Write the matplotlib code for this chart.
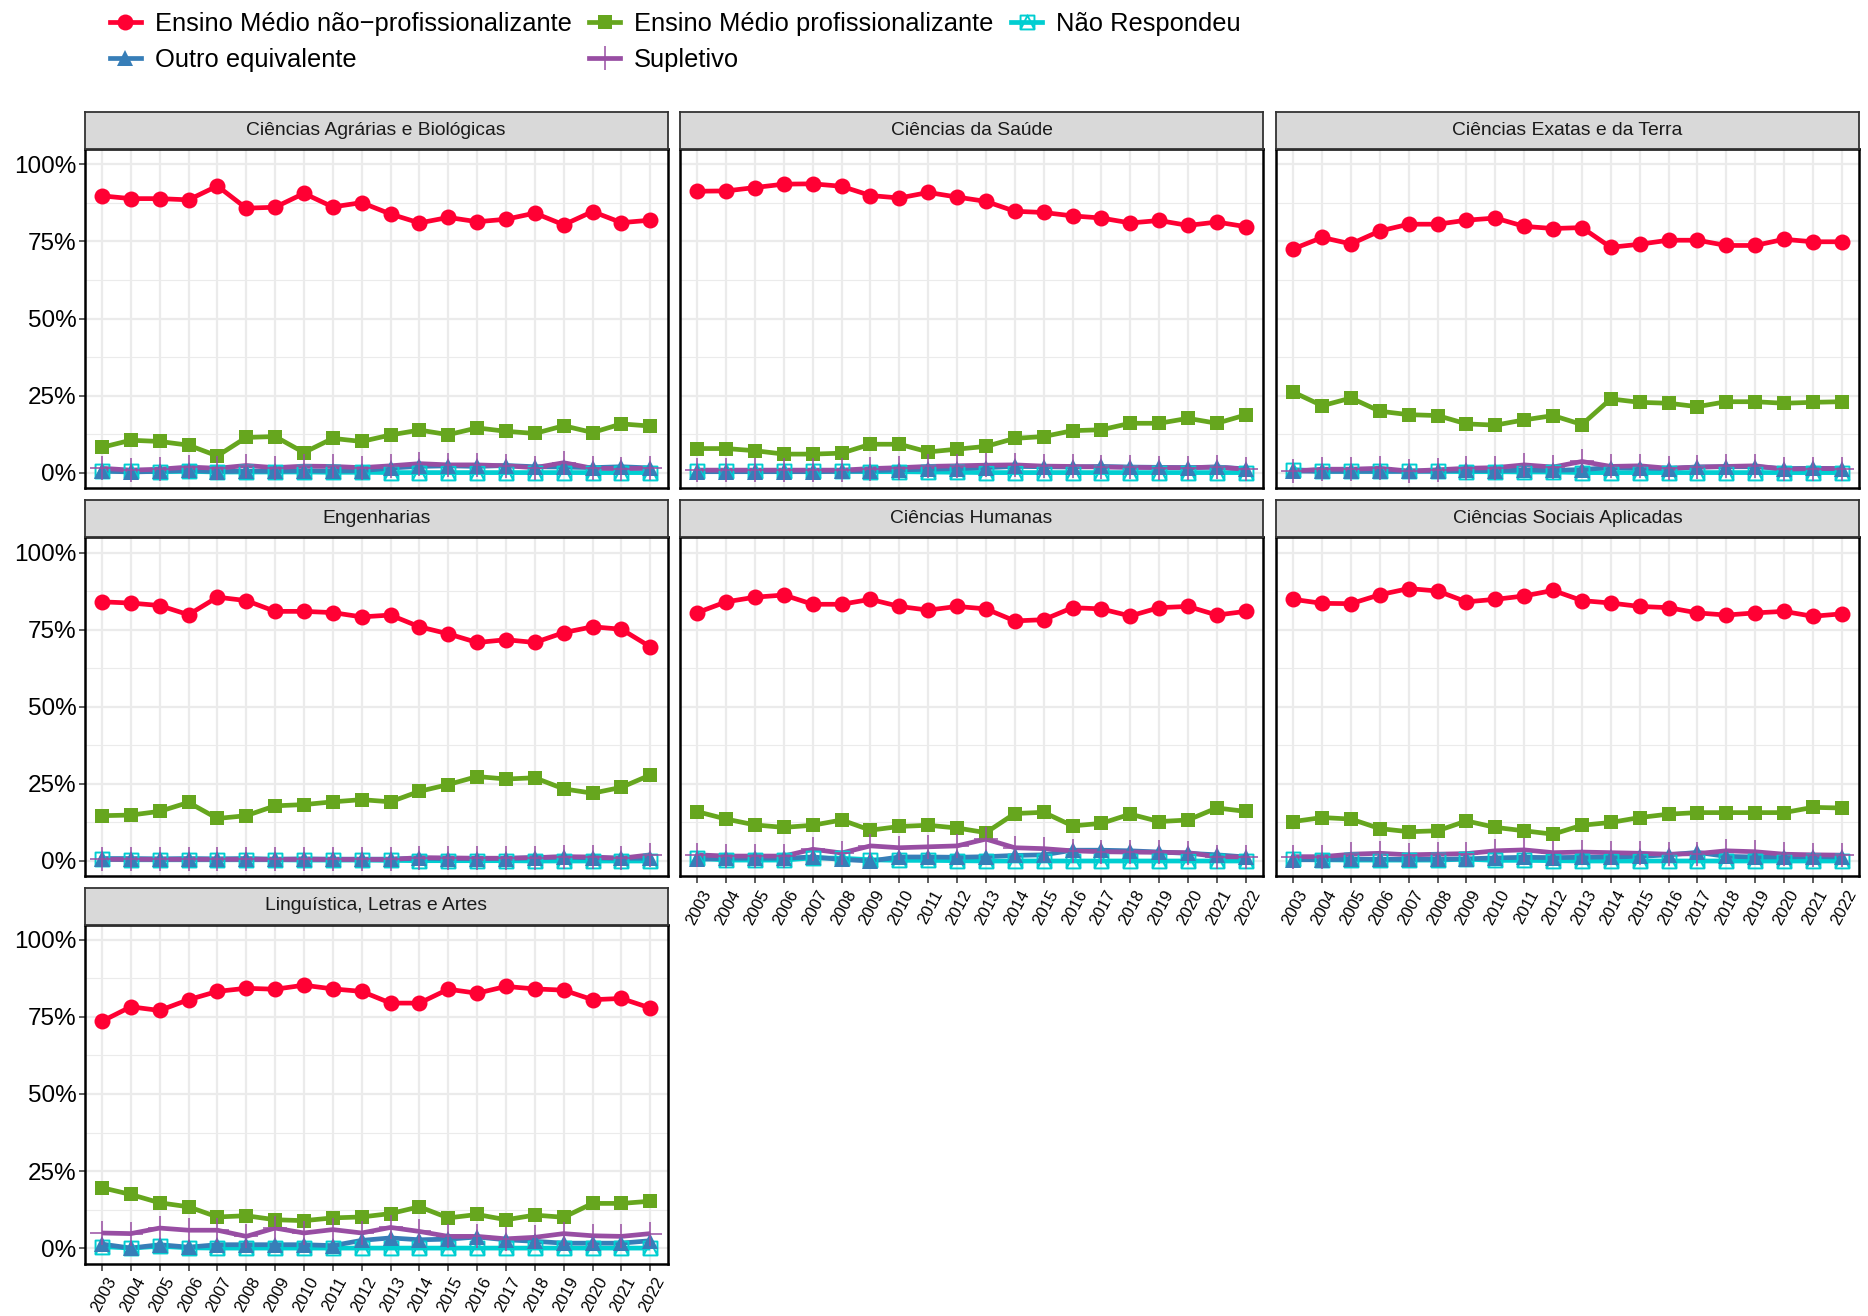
import matplotlib.pyplot as plt
import numpy as np
from matplotlib.lines import Line2D
from matplotlib.path import Path
from matplotlib.transforms import ScaledTranslation

plt.rcParams['font.family'] = ['Liberation Sans', 'DejaVu Sans']

years = list(range(2003, 2023))

areas = ['Ciências Agrárias e Biológicas', 'Ciências da Saúde', 'Ciências Exatas e da Terra',
         'Engenharias', 'Ciências Humanas', 'Ciências Sociais Aplicadas',
         'Linguística, Letras e Artes']

series_labels = ['Ensino Médio não−profissionalizante', 'Ensino Médio profissionalizante',
                 'Não Respondeu', 'Outro equivalente', 'Supletivo']

# share of students (%) by area, 2003-2022
nao_prof = {
    'Ciências Agrárias e Biológicas': [89.8, 88.9, 88.9, 88.5, 93.0, 85.8, 86.1, 90.6, 86.2, 87.6,
                                       83.9, 81.0, 82.8, 81.4, 82.2, 84.2, 80.4, 84.7, 81.1, 81.9],
    'Ciências da Saúde': [91.3, 91.4, 92.5, 93.6, 93.7, 92.9, 89.9, 89.1, 90.9, 89.4,
                          88.0, 84.8, 84.4, 83.3, 82.6, 81.0, 81.8, 80.2, 81.3, 79.8],
    'Ciências Exatas e da Terra': [72.6, 76.3, 74.2, 78.4, 80.6, 80.6, 81.9, 82.6, 79.9, 79.2,
                                   79.5, 73.1, 74.1, 75.4, 75.4, 73.7, 73.7, 75.7, 74.9, 74.9],
    'Engenharias': [84.1, 83.7, 82.9, 79.9, 85.6, 84.5, 81.0, 81.0, 80.6, 79.2,
                    79.8, 76.0, 73.7, 70.9, 71.8, 70.9, 74.1, 76.0, 75.2, 69.5],
    'Ciências Humanas': [80.6, 84.1, 85.6, 86.3, 83.3, 83.3, 84.9, 82.6, 81.4, 82.6,
                         81.8, 77.9, 78.3, 82.2, 81.8, 79.5, 82.2, 82.6, 79.8, 81.0],
    'Ciências Sociais Aplicadas': [84.9, 83.6, 83.5, 86.4, 88.4, 87.6, 84.1, 84.9, 86.0, 87.8,
                                   84.5, 83.7, 82.6, 82.2, 80.5, 79.8, 80.5, 81.0, 79.4, 80.2],
    'Linguística, Letras e Artes': [73.6, 78.3, 77.1, 80.6, 83.3, 84.3, 84.0, 85.3, 84.1, 83.3,
                                    79.5, 79.5, 84.0, 82.7, 84.9, 84.1, 83.7, 80.6, 81.0, 77.9],
}

prof = {
    'Ciências Agrárias e Biológicas': [8.2, 10.5, 10.1, 8.9, 5.4, 11.4, 11.7, 6.5, 11.1, 10.1,
                                       12.2, 13.8, 12.3, 14.5, 13.4, 12.7, 15.2, 13.0, 15.8, 15.1],
    'Ciências da Saúde': [7.8, 7.8, 7.1, 6.0, 6.0, 6.3, 9.2, 9.2, 6.7, 7.6,
                          8.5, 11.1, 11.7, 13.6, 13.9, 16.0, 16.0, 17.6, 16.0, 18.7],
    'Ciências Exatas e da Terra': [26.1, 21.7, 24.2, 19.9, 18.8, 18.5, 15.8, 15.4, 17.1, 18.5,
                                   15.6, 23.9, 22.8, 22.5, 21.4, 23.0, 23.0, 22.5, 22.8, 23.0],
    'Engenharias': [14.7, 14.9, 16.1, 19.0, 13.8, 14.7, 17.9, 18.3, 19.2, 19.9,
                    19.2, 22.6, 24.8, 27.4, 26.6, 27.0, 23.4, 22.0, 23.9, 27.9],
    'Ciências Humanas': [16.0, 13.6, 11.7, 10.9, 11.6, 13.3, 10.0, 11.2, 11.6, 10.7,
                         9.2, 15.4, 15.8, 11.4, 12.2, 15.2, 12.8, 13.3, 17.2, 16.1],
    'Ciências Sociais Aplicadas': [12.8, 14.1, 13.6, 10.5, 9.5, 9.8, 13.0, 10.9, 9.8, 8.7,
                                   11.6, 12.5, 14.1, 15.2, 15.7, 15.7, 15.7, 15.7, 17.4, 17.2],
    'Linguística, Letras e Artes': [19.6, 17.4, 14.7, 13.4, 10.1, 10.5, 9.2, 8.9, 9.8, 10.1,
                                    11.2, 13.4, 9.8, 10.9, 9.2, 10.7, 10.0, 14.5, 14.5, 15.2],
}

nao_respondeu = {
    'Ciências Agrárias e Biológicas': [0.5, 0.4, 0.3, 0.4, 0.2, 0.2, 0.2, 0.2, 0.1, 0.1,
                                       0.0, 0.0, 0.0, 0.0, 0.0, 0.0, 0.0, 0.0, 0.0, 0.0],
    'Ciências da Saúde': [0.5, 0.5, 0.4, 0.5, 0.4, 0.4, 0.3, 0.3, 0.2, 0.1,
                          0.0, 0.0, 0.0, 0.0, 0.0, 0.0, 0.0, 0.0, 0.0, 0.0],
    'Ciências Exatas e da Terra': [1.0, 0.4, 0.4, 0.4, 0.5, 0.4, 0.3, 0.3, 0.2, 0.2,
                                   0.0, 0.0, 0.0, 0.0, 0.0, 0.0, 0.0, 0.0, 0.0, 0.0],
    'Engenharias': [0.5, 0.4, 0.4, 0.4, 0.4, 0.4, 0.4, 0.3, 0.3, 0.3,
                    0.2, 0.1, 0.1, 0.1, 0.1, 0.0, 0.0, 0.0, 0.0, 0.0],
    'Ciências Humanas': [0.9, 0.3, 0.3, 0.3, 1.0, 0.9, 0.4, 0.2, 0.2, 0.1,
                         0.0, 0.0, 0.0, 0.0, 0.0, 0.0, 0.0, 0.0, 0.0, 0.0],
    'Ciências Sociais Aplicadas': [0.5, 0.4, 0.3, 0.3, 0.3, 0.3, 0.6, 0.2, 0.2, 0.1,
                                   0.0, 0.0, 0.0, 0.0, 0.0, 0.0, 0.0, 0.0, 0.0, 0.0],
    'Linguística, Letras e Artes': [0.5, 0.0, 0.6, 0.1, 0.0, 0.0, 0.0, 0.0, 0.0, 0.0,
                                    0.0, 0.0, 0.0, 0.0, 0.0, 0.0, 0.0, 0.0, 0.0, 0.0],
}

outro = {
    'Ciências Agrárias e Biológicas': [0.5, 0.2, 0.4, 0.7, 0.3, 0.5, 0.4, 0.6, 0.5, 0.6,
                                       1.5, 2.0, 2.2, 2.0, 2.3, 1.9, 1.8, 1.6, 1.9, 1.5],
    'Ciências da Saúde': [0.3, 0.3, 0.3, 0.3, 0.3, 0.4, 0.6, 0.9, 1.1, 1.3,
                          1.6, 2.0, 1.9, 1.8, 2.0, 1.8, 1.7, 1.6, 1.8, 1.2],
    'Ciências Exatas e da Terra': [0.5, 0.4, 0.4, 0.4, 0.4, 0.5, 0.7, 0.6, 0.8, 0.7,
                                   1.0, 1.6, 1.4, 1.3, 1.8, 1.9, 1.9, 1.3, 1.4, 1.3],
    'Engenharias': [0.8, 0.8, 0.7, 0.8, 0.7, 0.8, 0.6, 0.7, 0.6, 0.6,
                    0.6, 0.9, 0.8, 0.8, 0.8, 1.1, 1.3, 1.0, 0.9, 0.9],
    'Ciências Humanas': [0.5, 0.9, 0.9, 0.9, 1.3, 0.5, 0.0, 1.3, 1.3, 1.2,
                         1.4, 1.8, 2.0, 3.5, 3.5, 3.3, 2.9, 2.5, 2.0, 1.3],
    'Ciências Sociais Aplicadas': [0.4, 0.4, 0.6, 0.6, 0.5, 0.6, 0.7, 1.0, 1.2, 1.1,
                                   1.2, 1.3, 1.5, 2.0, 2.8, 1.5, 1.3, 1.3, 1.4, 1.3],
    'Linguística, Letras e Artes': [1.3, 0.0, 1.1, 0.3, 1.1, 1.1, 1.1, 1.1, 0.8, 2.5,
                                    3.3, 2.7, 2.9, 3.6, 2.7, 2.2, 1.6, 1.6, 1.6, 2.4],
}

supletivo = {
    'Ciências Agrárias e Biológicas': [1.4, 0.8, 1.1, 1.8, 1.4, 2.3, 1.6, 2.1, 2.0, 1.6,
                                       2.2, 2.9, 2.5, 2.5, 2.2, 1.6, 3.2, 1.4, 1.3, 1.4],
    'Ciências da Saúde': [0.8, 0.8, 0.8, 0.8, 0.8, 0.8, 1.3, 1.6, 2.0, 2.2,
                          2.4, 2.5, 2.1, 2.0, 1.8, 1.7, 1.6, 1.6, 1.8, 1.1],
    'Ciências Exatas e da Terra': [0.5, 1.1, 1.1, 1.4, 0.5, 0.9, 1.4, 1.6, 2.5, 1.8,
                                   3.6, 2.0, 2.2, 1.4, 1.8, 2.0, 2.2, 1.1, 1.3, 1.3],
    'Engenharias': [0.5, 0.5, 0.5, 0.5, 0.5, 0.5, 0.5, 0.5, 0.5, 0.5,
                    0.5, 1.1, 1.0, 0.9, 0.9, 1.1, 1.4, 1.3, 0.9, 2.0],
    'Ciências Humanas': [2.0, 1.6, 1.6, 1.6, 3.8, 2.6, 4.9, 4.3, 4.6, 4.9,
                         7.1, 4.3, 4.0, 3.3, 3.0, 2.9, 2.8, 2.7, 1.4, 1.3],
    'Ciências Sociais Aplicadas': [1.4, 1.4, 2.2, 2.5, 2.0, 2.2, 2.4, 3.3, 3.6, 2.7,
                                   2.9, 2.7, 2.5, 2.2, 2.4, 3.3, 3.0, 2.2, 2.0, 1.9],
    'Linguística, Letras e Artes': [4.9, 4.7, 6.5, 5.8, 5.8, 3.8, 6.5, 4.9, 6.0, 4.9,
                                    6.7, 5.4, 3.8, 3.8, 3.0, 3.5, 4.7, 4.0, 3.8, 4.7],
}

# ggplot shape 14: square with a triangle inside
square_triangle = Path(
    [(-1, -1), (1, -1), (1, 1), (-1, 1), (-1, -1), (-1, -1), (0, 1), (1, -1)],
    [Path.MOVETO, Path.LINETO, Path.LINETO, Path.LINETO, Path.CLOSEPOLY,
     Path.MOVETO, Path.LINETO, Path.LINETO])

series = [
    dict(data=nao_prof, color='#FF0033', marker='o', ms=11.5, mew=0, fill='full'),
    dict(data=prof, color='#66A61E', marker='s', ms=10.5, mew=0, fill='full'),
    dict(data=nao_respondeu, color='#00CED1', marker=square_triangle, ms=10, mew=1.4, fill='none'),
    dict(data=outro, color='#377EB8', marker='^', ms=11, mew=0, fill='full'),
    dict(data=supletivo, color='#984EA3', marker='+', ms=17, mew=1.1, fill='full'),
]

W, H = 1868, 1316
col_x = [84.6, 680, 1276]
panel_w = 583
row_y = [149, 537.4, 924.5]     # top of each panel (px)
panel_h = 339
strip_h = 37

positions = [(0, 0), (1, 0), (2, 0), (0, 1), (1, 1), (2, 1), (0, 2)]
bottom_panels = [4, 5, 6]
left_panels = [0, 3, 6]


def px_box(x, y_top, w, h):
    return [x / W, 1 - (y_top + h) / H, w / W, h / H]


def draw_panel(fig, idx, area):
    col, row = positions[idx]
    x0, y0 = col_x[col], row_y[row]
    ax = fig.add_axes(px_box(x0, y0, panel_w, panel_h))

    xs = np.arange(len(years))
    # lines first, then points on top (as ggplot layers)
    for s in series:
        ax.plot(xs, s['data'][area], color=s['color'], lw=3.4, zorder=3,
                solid_capstyle='butt')
    for s in series:
        ax.plot(xs, s['data'][area], ls='none', marker=s['marker'], ms=s['ms'],
                color=s['color'], mec=s['color'], mew=s['mew'],
                fillstyle=s['fill'], zorder=4)

    ax.set_xlim(-0.6, len(years) - 0.4)
    ax.set_ylim(-5, 105)
    ax.set_yticks([0, 25, 50, 75, 100])
    ax.set_yticks([12.5, 37.5, 62.5, 87.5], minor=True)
    ax.set_xticks(xs)
    ax.grid(which='major', color='#EBEBEB', lw=1.6)
    ax.grid(which='minor', axis='y', color='#EBEBEB', lw=0.8)
    ax.set_axisbelow(True)
    for sp in ax.spines.values():
        sp.set_color('black')
        sp.set_linewidth(1.8)
    ax.tick_params(which='minor', length=0)

    if idx in left_panels:
        ax.set_yticklabels(['0%', '25%', '50%', '75%', '100%'], fontsize=17.5, color='black')
        ax.tick_params(axis='y', length=4, width=1.1, color='#333333', pad=2)
    else:
        ax.tick_params(axis='y', length=0, labelleft=False)

    if idx in bottom_panels:
        ax.set_xticklabels([str(y) for y in years], fontsize=12, rotation=62,
                           ha='right', va='top', rotation_mode='anchor', color='black')
        ax.tick_params(axis='x', length=5, width=1.1, color='#333333', pad=3)
        shift = ScaledTranslation(4 / 100, 0, fig.dpi_scale_trans)
        for lbl in ax.get_xticklabels():
            lbl.set_transform(lbl.get_transform() + shift)
    else:
        ax.tick_params(axis='x', length=0, labelbottom=False)

    # facet strip
    sax = fig.add_axes(px_box(x0, y0 - strip_h, panel_w, strip_h))
    sax.set_facecolor('#D9D9D9')
    sax.set_xticks([])
    sax.set_yticks([])
    for sp in sax.spines.values():
        sp.set_color('#333333')
        sp.set_linewidth(1.3)
    sax.text(0.5, 0.5, area, ha='center', va='center', fontsize=13.9,
             color='#1A1A1A', transform=sax.transAxes)
    return ax


fig = plt.figure(figsize=(W / 100, H / 100), dpi=100)

for i, area in enumerate(areas):
    draw_panel(fig, i, area)

handles = [Line2D([], [], color=s['color'], lw=3.4, marker=s['marker'], ms=s['ms'],
                  mec=s['color'], mew=s['mew'], fillstyle=s['fill'])
           for s in series]
# matplotlib fills legend column-wise; reorder so it reads row-wise like ggplot
order = [0, 3, 1, 4, 2]
fig.legend([handles[i] for i in order], [series_labels[i] for i in order],
           loc='upper left', bbox_to_anchor=(110 / W, 1 - 12 / H), ncol=3,
           frameon=False, fontsize=18.4, handlelength=1.2, handletextpad=0.55,
           columnspacing=0.7, labelspacing=0.46, borderpad=0, borderaxespad=0)

fig.savefig('out.png', dpi=100)
